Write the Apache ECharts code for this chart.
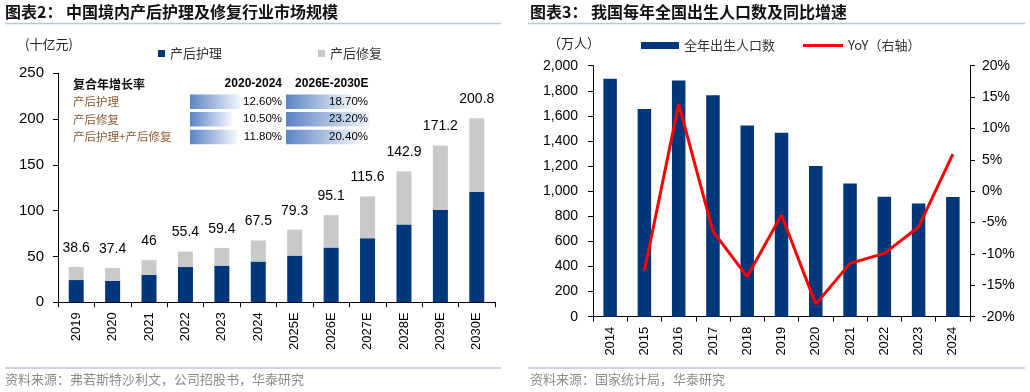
<!DOCTYPE html>
<html>
<head>
<meta charset="utf-8">
<script src="https://cdn.jsdelivr.net/npm/echarts@6/dist/echarts.min.js"></script>
<style>
html,body{margin:0;padding:0;background:#fff;}
#c{width:1030px;height:392px;}
</style>
</head>
<body>
<div id="c"></div>
<script>
// ---------- data: chart 2 (market size, 十亿元) ----------
const years1 = ['2019','2020','2021','2022','2023','2024','2025E','2026E','2027E','2028E','2029E','2030E'];
const careVals   = [24.3, 23.4, 30.0, 38.5, 40.0, 44.5, 51.0, 59.8, 70.0, 85.0, 101.0, 120.5];
const repairVals = [14.3, 14.0, 16.0, 16.9, 19.4, 23.0, 28.3, 35.3, 45.6, 57.9, 70.2, 80.3];
const totalVals  = [38.6, 37.4, 46, 55.4, 59.4, 67.5, 79.3, 95.1, 115.6, 142.9, 171.2, 200.8];
const yTicks1 = [0, 50, 100, 150, 200, 250];

// CAGR table
const cagrRows = ['产后护理', '产后修复', '产后护理+产后修复'];
const cagrHeaders = ['2020-2024', '2026E-2030E'];
const cagrA = [12.6, 10.5, 11.8];
const cagrB = [18.7, 23.2, 20.4];

// ---------- data: chart 3 (births, 万人) ----------
const years2 = ['2014','2015','2016','2017','2018','2019','2020','2021','2022','2023','2024'];
const births = [1897, 1655, 1883, 1765, 1523, 1465, 1200, 1062, 956, 902, 954];
const yoy    = [null, -12.7, 13.9, -6.4, -13.6, -3.8, -18.0, -11.5, -9.9, -5.7, 5.9];

const NUM = '"Liberation Sans", Arial, "Noto Sans CJK SC", sans-serif';
const CJK = '"Noto Sans CJK SC", "Liberation Sans", sans-serif';
const NAVY = '#00377A';
const GRAY = '#C9C9C9';
const RULE = '#B9C8DB';

const chart = echarts.init(document.getElementById('c'), null, {renderer: 'canvas'});

const cagrGrad = new echarts.graphic.LinearGradient(0, 0, 1, 0, [
  {offset: 0, color: '#5B84C6'}, {offset: 1, color: '#F3F6FB'}
]);

const option = {
  animation: false,
  backgroundColor: '#fff',
  textStyle: {fontFamily: NUM},
  grid: [
    {left: 58, top: 73.3, width: 437, height: 229, outerBoundsMode: 'none'},
    {left: 190, top: 92.8, width: 94, height: 53, outerBoundsMode: 'none'},
    {left: 286, top: 92.8, width: 84, height: 53, outerBoundsMode: 'none'},
    {left: 593, top: 65.7, width: 377, height: 251, outerBoundsMode: 'none'}
  ],
  legend: [
    {
      left: 158, top: 47, padding: 0, itemWidth: 7, itemHeight: 7, itemGap: 96,
      selectedMode: false,
      data: [{name: '产后护理', icon: 'rect'}, {name: '产后修复', icon: 'rect'}],
      textStyle: {fontFamily: CJK, fontSize: 13, color: '#333'}
    },
    {
      left: 641, top: 39, padding: 0, itemWidth: 38, itemHeight: 7,
      selectedMode: false,
      data: [{name: '全年出生人口数', icon: 'rect'}],
      textStyle: {fontFamily: CJK, fontSize: 13, color: '#333'}
    },
    {
      left: 803, top: 39, padding: 0, itemWidth: 40, itemHeight: 3,
      selectedMode: false,
      data: [{name: 'YoY（右轴）', icon: 'rect'}],
      textStyle: {fontFamily: CJK, fontSize: 13, color: '#333'}
    }
  ],
  xAxis: [
    {
      type: 'category', gridIndex: 0, data: years1,
      axisLine: {lineStyle: {color: '#000'}},
      axisTick: {show: true, length: 5, lineStyle: {color: '#000'}},
      axisLabel: {rotate: 90, margin: 10, fontSize: 13, color: '#000', fontFamily: NUM, interval: 0}
    },
    {type: 'value', gridIndex: 1, min: 0, max: 23.7, show: false},
    {type: 'value', gridIndex: 2, min: 0, max: 23.2, show: false},
    {
      type: 'category', gridIndex: 3, data: years2,
      axisLine: {lineStyle: {color: '#000'}},
      axisTick: {show: true, length: 5, lineStyle: {color: '#000'}},
      axisLabel: {rotate: 90, margin: 10, fontSize: 13, color: '#000', fontFamily: NUM, interval: 0}
    }
  ],
  yAxis: [
    {
      type: 'value', gridIndex: 0, min: yTicks1[0], max: yTicks1[yTicks1.length - 1], interval: 50,
      axisLine: {show: true, lineStyle: {color: '#000'}},
      axisTick: {show: true, length: 5, lineStyle: {color: '#000'}},
      splitLine: {show: false},
      axisLabel: {margin: 14, fontSize: 15, color: '#000', fontFamily: NUM}
    },
    {
      type: 'category', gridIndex: 1, data: cagrRows, inverse: true,
      axisLine: {show: false}, axisTick: {show: false},
      axisLabel: {margin: 117, align: 'left', fontSize: 11.5, color: '#8A5A32', fontFamily: CJK}
    },
    {
      type: 'category', gridIndex: 2, data: cagrRows, inverse: true,
      axisLine: {show: false}, axisTick: {show: false}, axisLabel: {show: false}
    },
    {
      type: 'value', gridIndex: 3, min: 0, max: 2000, interval: 200,
      axisLine: {show: true, lineStyle: {color: '#000'}},
      axisTick: {show: true, length: 5, lineStyle: {color: '#000'}},
      splitLine: {show: false},
      axisLabel: {margin: 15, fontSize: 14, color: '#000', fontFamily: NUM,
        formatter: v => v.toLocaleString('en-US')}
    },
    {
      type: 'value', gridIndex: 3, position: 'right', min: -20, max: 20, interval: 5,
      axisLine: {show: true, lineStyle: {color: '#000'}},
      axisTick: {show: true, length: 5, lineStyle: {color: '#000'}},
      splitLine: {show: false},
      axisLabel: {margin: 12, fontSize: 14, color: '#000', fontFamily: NUM, formatter: '{value}%'}
    }
  ],
  series: [
    {
      name: '产后护理', type: 'bar', xAxisIndex: 0, yAxisIndex: 0, stack: 's', barWidth: 15,
      data: careVals, itemStyle: {color: NAVY}
    },
    {
      name: '产后修复', type: 'bar', xAxisIndex: 0, yAxisIndex: 0, stack: 's', barWidth: 15,
      data: repairVals, itemStyle: {color: GRAY},
      label: {
        show: true, position: 'top', distance: 12, fontSize: 14, color: '#000', fontFamily: NUM,
        formatter: p => String(totalVals[p.dataIndex])
      }
    },
    // CAGR data bars col 1
    {
      name: 'cagrA', type: 'bar', xAxisIndex: 1, yAxisIndex: 1, barWidth: 14.5, barGap: '-100%',
      data: cagrA, itemStyle: {color: cagrGrad}, silent: true
    },
    {
      name: 'cagrAText', type: 'bar', xAxisIndex: 1, yAxisIndex: 1, barWidth: 14.5, barGap: '-100%',
      data: cagrA.map(() => 23.7), itemStyle: {color: 'rgba(0,0,0,0)'}, silent: true,
      label: {show: true, position: 'insideRight', distance: 2, fontSize: 11.5, color: '#000', fontFamily: NUM,
        formatter: p => cagrA[p.dataIndex].toFixed(2) + '%'}
    },
    // CAGR data bars col 2
    {
      name: 'cagrB', type: 'bar', xAxisIndex: 2, yAxisIndex: 2, barWidth: 14.5, barGap: '-100%',
      data: cagrB, itemStyle: {color: cagrGrad}, silent: true
    },
    {
      name: 'cagrBText', type: 'bar', xAxisIndex: 2, yAxisIndex: 2, barWidth: 14.5, barGap: '-100%',
      data: cagrB.map(() => 23.2), itemStyle: {color: 'rgba(0,0,0,0)'}, silent: true,
      label: {show: true, position: 'insideRight', distance: 2, fontSize: 11.5, color: '#000', fontFamily: NUM,
        formatter: p => cagrB[p.dataIndex].toFixed(2) + '%'}
    },
    // births
    {
      name: '全年出生人口数', type: 'bar', xAxisIndex: 3, yAxisIndex: 3, barWidth: 13.5,
      data: births, itemStyle: {color: NAVY}
    },
    {
      name: 'YoY（右轴）', type: 'line', xAxisIndex: 3, yAxisIndex: 4,
      data: yoy, symbol: 'none', connectNulls: false,
      lineStyle: {color: '#FF0000', width: 3}, itemStyle: {color: '#FF0000'}
    }
  ],
  graphic: [
    // titles
    {type: 'text', left: 5, top: 4, style: {text: '图表2： 中国境内产后护理及修复行业市场规模', font: 'bold 16px ' + CJK, fill: '#111'}},
    {type: 'text', left: 530, top: 4, style: {text: '图表3： 我国每年全国出生人口数及同比增速', font: 'bold 16px ' + CJK, fill: '#111'}},
    // title rules
    {type: 'line', shape: {x1: 5, y1: 23.5, x2: 501, y2: 23.5}, style: {stroke: RULE, lineWidth: 1.5}},
    {type: 'line', shape: {x1: 528, y1: 23.5, x2: 1025, y2: 23.5}, style: {stroke: RULE, lineWidth: 1.5}},
    // source rules
    {type: 'line', shape: {x1: 5, y1: 368, x2: 501, y2: 368}, style: {stroke: RULE, lineWidth: 1.5}},
    {type: 'line', shape: {x1: 528, y1: 368, x2: 1025, y2: 368}, style: {stroke: RULE, lineWidth: 1.5}},
    // sources
    {type: 'text', left: 5, top: 373, style: {text: '资料来源：弗若斯特沙利文，公司招股书，华泰研究', font: '13px ' + CJK, fill: '#8C8C8C'}},
    {type: 'text', left: 530, top: 373, style: {text: '资料来源：国家统计局，华泰研究', font: '13px ' + CJK, fill: '#8C8C8C'}},
    // units
    {type: 'text', left: 25, top: 38, style: {text: '(十亿元)', font: '13px ' + CJK, fill: '#222'}},
    {type: 'text', left: 548, top: 37, style: {text: '（万人）', font: '13px ' + CJK, fill: '#222'}},
    // CAGR table header
    {type: 'text', left: 73, top: 78, style: {text: '复合年增长率', font: 'bold 12px ' + CJK, fill: '#111'}},
    {type: 'text', right: 1030 - 282, top: 78, style: {text: cagrHeaders[0], font: 'bold 12px ' + NUM, fill: '#000', align: 'right'}},
    {type: 'text', right: 1030 - 368.5, top: 78, style: {text: cagrHeaders[1], font: 'bold 12px ' + NUM, fill: '#000', align: 'right'}}
  ]
};
chart.setOption(option);
</script>
</body>
</html>
